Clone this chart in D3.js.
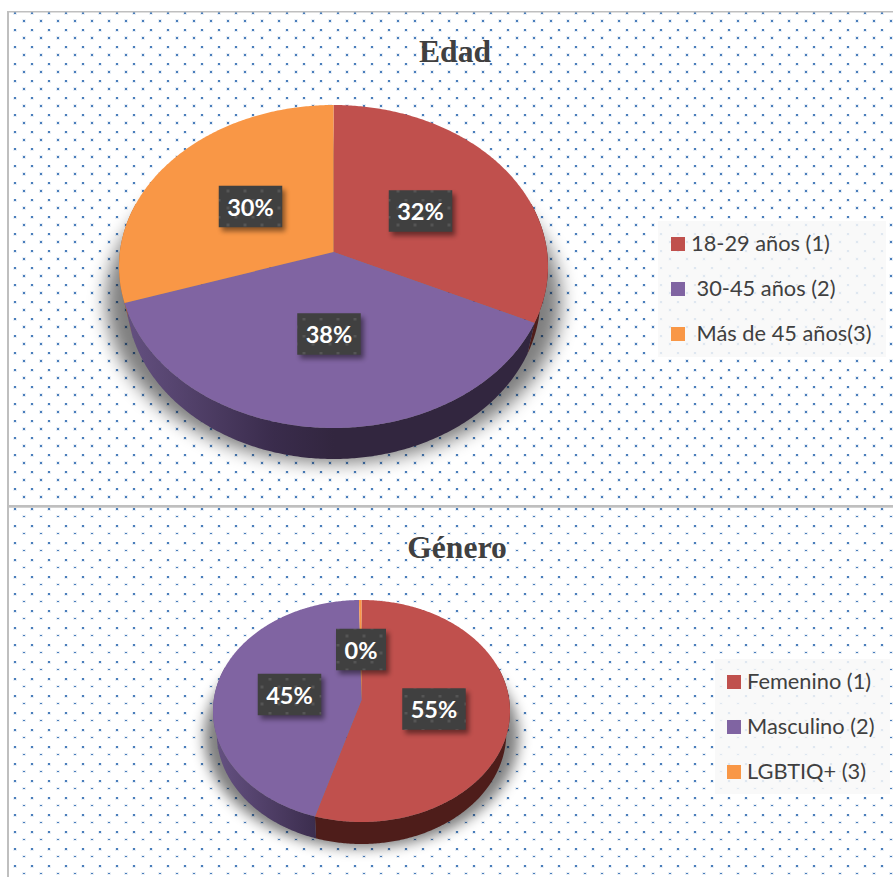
<!DOCTYPE html>
<html><head><meta charset="utf-8">
<script src="https://cdn.jsdelivr.net/npm/d3@7"></script>
<style>html,body{margin:0;padding:0;background:#fff}svg{display:block}</style>
</head><body><div id="c"></div>
<script>
// ---- data ----
const edadCategories = ["18-29 años (1)", " 30-45 años (2)", " Más de 45 años(3)"];
const edadValues = [32, 38, 30];
const generoCategories = ["Femenino (1)", "Masculino (2)", "LGBTIQ+ (3)"];
const generoValues = [54.6, 45.1, 0.3];
const faceColors = ["#c0504d", "#8064a2", "#f99746"];

// ---- layout ----
const W = 893, H = 877;
const panels = [
  {title:"Edad", titleY:62, titleX:455, cats:edadCategories, vals:edadValues,
   cx:334, cy:252, top:105, bottom:428, left:119, right:548, depth:31, inset:.965, blurId:"sh9",
   labels:[[420.5,211],[329,334],[250.5,206.5]],
   legend:{x:658,y:221,w:228,h:136,sx:671,sy:[237,282,327],tx:691}},
  {title:"Género", titleY:558, titleX:457, cats:generoCategories, vals:generoValues,
   cx:361, cy:700, top:600, bottom:822, left:213, right:510, depth:22, inset:.975, blurId:"sh6",
   labels:[[434,709],[289.5,694.5],[361,649.5]],
   legend:{x:715,y:659,w:175,h:135,sx:727,sy:[675,720,765],tx:747}}
];
const svg = d3.select("#c").append("svg").attr("width",W).attr("height",H);
const defs = svg.append("defs");

function dotPattern(id, y0, flatten){
  const p = defs.append("pattern").attr("id",id).attr("patternUnits","userSpaceOnUse")
    .attr("x",0).attr("y",y0).attr("width",17).attr("height",17);
  [[14,0,2],[6,8,flatten?1:2]].forEach(([x,y,h])=>{
    p.append("rect").attr("x",x-1).attr("y",y-1).attr("width",4).attr("height",h+2).attr("fill","#4a7ebb").attr("fill-opacity",.12);
    p.append("rect").attr("x",x).attr("y",y).attr("width",2).attr("height",h).attr("fill","#4a7ebb");
  });
}
dotPattern("dotsA",12,false);
dotPattern("dotsB",508,true);
// the same grid as it shows faintly through the dark label boxes
[["boxDotsA",12],["boxDotsB",508]].forEach(([id,y0])=>{
  const p = defs.append("pattern").attr("id",id).attr("patternUnits","userSpaceOnUse")
    .attr("x",0).attr("y",y0).attr("width",17).attr("height",17);
  [[14,0],[6,8]].forEach(([x,y])=>p.append("rect").attr("x",x-.5).attr("y",y-.5).attr("width",3).attr("height",3).attr("fill","#fff").attr("fill-opacity",.11));
});

const blur = (id,s)=>defs.append("filter").attr("id",id).attr("x","-30%").attr("y","-30%").attr("width","160%").attr("height","160%")
  .append("feGaussianBlur").attr("stdDeviation",s);
blur("sh9",9); blur("sh6",6.5); blur("lab",2.4);

// background
svg.append("rect").attr("width",W).attr("height",H).attr("fill","#fff");
svg.append("rect").attr("x",9).attr("y",12).attr("width",W-9).attr("height",494).attr("fill","url(#dotsA)");
svg.append("rect").attr("x",9).attr("y",508).attr("width",W-9).attr("height",H-508).attr("fill","url(#dotsB)");
svg.append("rect").attr("x",7).attr("y",11).attr("width",W-7).attr("height",1.5).attr("fill","#bfbfbf");
svg.append("rect").attr("x",7).attr("y",11).attr("width",2).attr("height",H-11).attr("fill","#bfbfbf");
svg.append("rect").attr("x",7).attr("y",505).attr("width",W-7).attr("height",2.7).attr("fill","#bfbfbf");

const pct = d3.format(".0%");

panels.forEach((P,pi)=>{
  // projective mapping from the unit disc onto the tilted pie
  const up = P.cy-P.top, dn = P.bottom-P.cy;
  const k = (dn-up)/(dn+up), a = up*(1+k);
  const b = (P.right-P.left)/2*Math.sqrt(1-k*k);
  const cxx = (P.right+P.left)/2;
  const proj = (r,ang)=>{
    const u = r*Math.sin(ang), v = r*Math.cos(ang), w = 1+k*v;
    return [cxx + b*u/w, P.cy - a*v/w];
  };
  const line = d3.line();
  const pie = d3.pie().sort(null).value(d=>d);
  const arcs = pie(P.vals);
  const arcPts = (s,e)=>{
    const n = Math.max(2,Math.ceil((e-s)/0.01));
    return d3.range(n+1).map(i=>s+(e-s)*i/n);
  };
  const g = svg.append("g");

  // drop shadow: a wider copy of the rim, lowered to the base of the pie
  const rim = arcPts(0,2*Math.PI).map(t=>proj(1,t));
  g.append("path")
    .attr("d",line(rim.map(([x,y])=>[cxx+(x-cxx)*1.06,y+P.depth+4]))+"Z")
    .attr("fill","#000").attr("opacity",.5)
    .attr("filter",`url(#${P.blurId})`);

  // side walls
  const gradId = "wall"+pi;
  const grad = defs.append("linearGradient").attr("id",gradId).attr("gradientUnits","userSpaceOnUse")
    .attr("x1",P.left).attr("x2",P.cx).attr("y1",0).attr("y2",0);
  grad.append("stop").attr("offset","0").attr("stop-color","#665283");
  grad.append("stop").attr("offset","0.72").attr("stop-color","#3a2c4c");
  grad.append("stop").attr("offset","1").attr("stop-color","#32263f");
  const wallFill = ["#4e1d1a",`url(#${gradId})`,"#a9622c"];
  arcs.forEach((d,i)=>{
    const s = Math.max(d.startAngle,Math.PI*0.4), e = Math.min(d.endAngle,Math.PI*1.6);
    if(e<=s) return;
    const pts = arcPts(s,e).map(t=>proj(1,t));
    const base = pts.slice().reverse().map(([x,y])=>[cxx+(x-cxx)*P.inset,y+P.depth]);
    g.append("path").attr("d",line(pts.concat(base))+"Z").attr("fill",wallFill[i]);
  });

  // faces
  arcs.forEach((d,i)=>{
    const pts = [proj(0,0)].concat(arcPts(d.startAngle,d.endAngle).map(t=>proj(1,t)));
    g.append("path").attr("d",line(pts)+"Z").attr("fill",faceColors[i]);
  });

  // title
  svg.append("text").attr("x",P.titleX).attr("y",P.titleY).attr("text-anchor","middle")
    .attr("font-family","'Liberation Serif',serif").attr("font-weight","bold").attr("font-size",31.6)
    .attr("fill","#404040").text(P.title);

  // data labels
  const total = d3.sum(P.vals);
  P.vals.forEach((v,i)=>{
    const [lx,ly] = P.labels[i];
    const txt = pct(v/total), bw = txt.length<3?50:63.5, bh = 41.5;
    const x0 = lx-bw/2, y0 = ly-bh/2;
    svg.append("rect").attr("x",x0+3).attr("y",y0+4).attr("width",bw).attr("height",bh)
      .attr("fill","#000").attr("opacity",.45).attr("filter","url(#lab)");
    svg.append("rect").attr("x",x0).attr("y",y0).attr("width",bw).attr("height",bh).attr("fill","#404040");
    svg.append("rect").attr("x",x0).attr("y",y0).attr("width",bw).attr("height",bh)
      .attr("fill",`url(#${pi?"boxDotsB":"boxDotsA"})`);
    svg.append("text").attr("x",lx).attr("y",ly+9).attr("text-anchor","middle")
      .attr("font-family","Lato,sans-serif").attr("font-weight","bold").attr("font-size",23.5)
      .attr("fill","#fff").text(txt);
  });

  // legend
  const L = P.legend;
  svg.append("rect").attr("x",L.x).attr("y",L.y).attr("width",L.w).attr("height",L.h)
    .attr("fill","#f8f8f8").attr("fill-opacity",.86);
  P.cats.forEach((c,i)=>{
    svg.append("rect").attr("x",L.sx).attr("y",L.sy[i]).attr("width",14).attr("height",14).attr("fill",faceColors[i]);
    svg.append("text").attr("x",L.tx).attr("y",L.sy[i]+14).style("white-space","pre")
      .attr("font-family","Lato,sans-serif").attr("font-size",21.8).attr("fill","#404040").text(c);
  });
});
</script></body></html>
